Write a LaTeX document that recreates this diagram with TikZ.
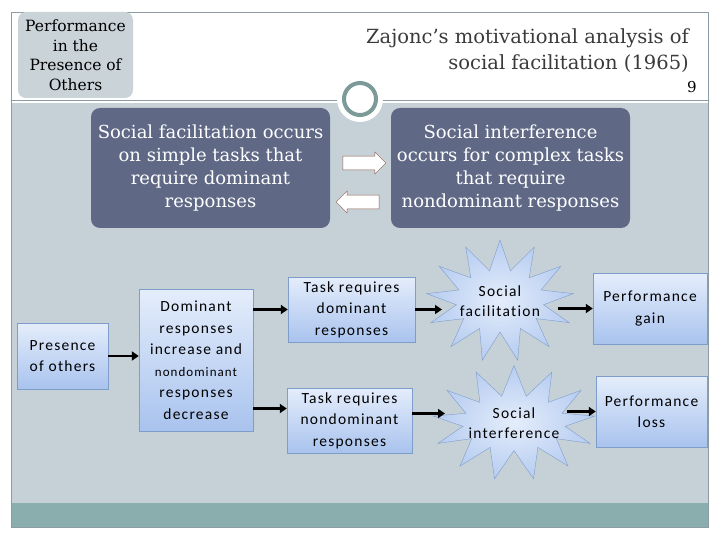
\documentclass[tikz,border=0pt]{standalone}
\usepackage{fontspec}
\setmainfont{DejaVu Serif}
\newfontfamily\boxfont[LetterSpace=8,Ligatures=CommonOff]{Carlito}
\usetikzlibrary{arrows.meta}
\usetikzlibrary{shapes.symbols}
\usetikzlibrary{shapes.arrows}

\definecolor{panel}{HTML}{C6D1D7}
\definecolor{band}{HTML}{8AADAD}
\definecolor{slate}{HTML}{5F6986}
\definecolor{framegray}{HTML}{8C9CA4}
\definecolor{ring}{HTML}{7B9A98}
\definecolor{tagfill}{HTML}{C9D3D8}
\definecolor{boxtop}{HTML}{E4EDFB}
\definecolor{boxbot}{HTML}{A9C3EE}
\definecolor{boxline}{HTML}{7F9DCB}
\definecolor{blockline}{HTML}{8B5A4A}
\definecolor{titletext}{HTML}{3A3A3A}

\tikzset{
	flowbox/.style={draw=boxline, top color=boxtop, bottom color=boxbot, align=center, text=black, inner sep=1pt,
		font=\boxfont\fontsize{15.5}{21.5}\selectfont},
	burst/.style={starburst, starburst points=13, starburst point height=30pt, random starburst=0, draw=boxline,
		inner color=boxtop, outer color=boxbot!85, align=center, inner xsep=-9pt, inner ysep=0pt,
		font=\boxfont\fontsize{15.5}{20}\selectfont},
	darkbox/.style={rounded corners=9pt, fill=slate, text=white, align=center,
		minimum width=239pt, minimum height=120pt, font=\fontsize{18}{22.7}\selectfont},
	blockarrow/.style={single arrow, draw=blockline, fill=white, minimum height=43pt, minimum width=22pt,
		single arrow head extend=4pt, inner sep=6.5pt},
	flow/.style={-{Triangle[length=7pt,width=9pt]}, line width=2.6pt},
}

\begin{document}
\begin{tikzpicture}[x=1pt,y=-1pt]
	\useasboundingbox (0,0) rectangle (720,540);
	\fill[white] (0,0) rectangle (720,540);
	\fill[panel] (11,103) rectangle (708,503);
	\fill[band] (11,503) rectangle (708,527);
	\draw[framegray] (11,12) rectangle (708,527);
	\draw[framegray] (11,100) -- (708,100);
	\fill[white] (360,99) circle (23);
	\draw[ring, line width=4pt] (360,99) circle (16);

	\node[fill=tagfill, rounded corners=8pt, minimum width=115pt, minimum height=86pt, align=center, inner sep=0pt,
		font=\fontsize{15.5}{19.5}\selectfont] (tag) at (75.5,55) {Performance\\in the\\Presence of\\Others};
	\node[anchor=east, align=right, text=titletext, inner sep=0pt, font=\fontsize{19.5}{26.5}\selectfont] (title) at (689,50.5)
		{Zajonc's motivational analysis of\\social facilitation (1965)};
	\node[text=black, inner sep=0pt, font=\fontsize{15}{18}\selectfont] (page) at (692,87) {9};

	\node[darkbox] (facil) at (210.5,168) {Social facilitation occurs\\on simple tasks that\\require dominant\\responses};
	\node[darkbox] (interf) at (510.5,168) {Social interference\\occurs for complex tasks\\that require\\nondominant responses};
	\node[blockarrow] (rarrow) at (361,163) {};
	\node[blockarrow, shape border rotate=180] (larrow) at (361,202) {};

	\node[flowbox, minimum width=91pt, minimum height=66pt] (presence) at (62.5,356) {Presence\\of others};
	\node[flowbox, minimum width=114pt, minimum height=142pt] (dominant) at (196,360)
		{Dominant\\responses\\increase and\\{\fontsize{13}{21.5}\selectfont nondominant}\\responses\\decrease};
	\node[flowbox, minimum width=127pt, minimum height=65pt] (task1) at (351.5,309.5) {Task requires\\dominant\\responses};
	\node[flowbox, minimum width=125pt, minimum height=65pt] (task2) at (349.5,420.5) {Task requires\\nondominant\\responses};
	\node[burst, minimum height=122pt] (burst1) at (500,301) {Social\\facilitation};
	\node[burst, minimum height=115pt, shape border rotate=10] (burst2) at (514,423) {Social\\interference};
	\node[flowbox, minimum width=114pt, minimum height=71pt] (gain) at (650,308.5) {Performance\\gain};
	\node[flowbox, minimum width=111pt, minimum height=71pt] (loss) at (651.5,411.5) {Performance\\loss};

	\draw[flow] (presence.east) -- (presence.east -| dominant.west);
	\draw[flow] (task1.west -| dominant.east) -- (task1.west);
	\draw[flow] ([yshift=12pt]task2.west -| dominant.east) -- ([yshift=12pt]task2.west);
	\draw[flow] (task1.east) -- ([xshift=-58pt]burst1.center |- task1.east);
	\draw[flow] ([xshift=58pt]burst1.center |- gain.west) -- (gain.west);
	\draw[flow] ([yshift=7pt]task2.east) -- ([xshift=-69pt,yshift=7pt]burst2.center |- task2.east);
	\draw[flow] ([xshift=53pt]burst2.center |- loss.west) -- (loss.west);
\end{tikzpicture}
\end{document}
